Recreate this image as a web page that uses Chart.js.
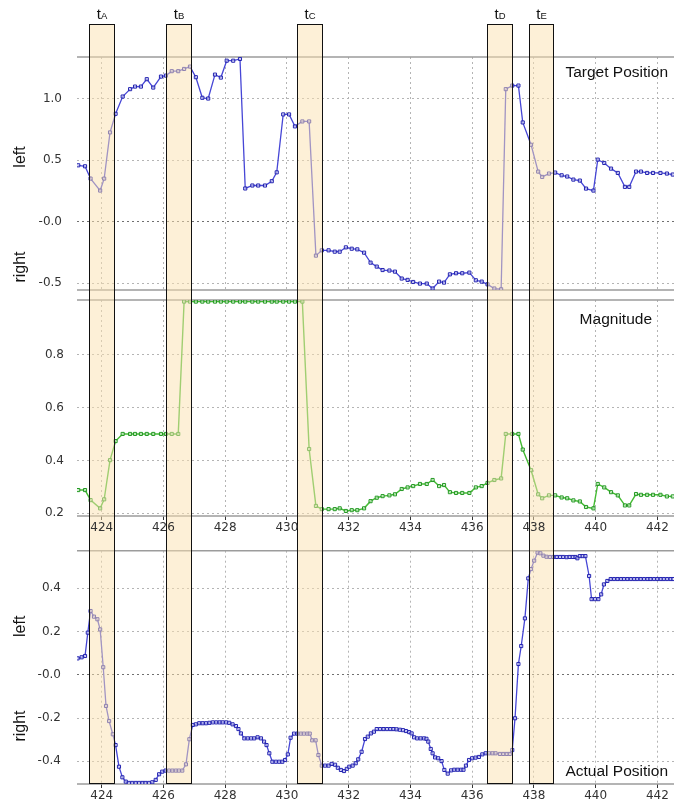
<!DOCTYPE html>
<html><head><meta charset="utf-8">
<script src="https://cdn.jsdelivr.net/npm/chart.js@4/dist/chart.umd.min.js"></script>
<style>
html,body{margin:0;padding:0;background:#fff;}
#wrap{position:relative;width:694px;height:809px;overflow:hidden;background:#fff;}
canvas{position:absolute;left:0;}
</style></head><body>
<div id="wrap">
<canvas id="c1" width="694" height="295" style="top:0px"></canvas>
<canvas id="c2" width="694" height="250" style="top:295px"></canvas>
<canvas id="c3" width="694" height="264" style="top:545px"></canvas>
</div>
<script>
// ---------- DATA ----------
const targetTime = [423.24,423.46,423.64,423.95,424.08,424.27,424.45,424.68,424.92,425.08,
425.27,425.46,425.67,425.92,426.08,426.27,426.48,426.67,426.86,427.05,
427.26,427.45,427.67,427.86,428.05,428.26,428.48,428.65,428.88,429.07,
429.29,429.51,429.67,429.88,430.07,430.26,430.50,430.72,430.94,431.13,
431.35,431.55,431.71,431.91,432.10,432.28,432.50,432.71,432.91,433.10,
433.32,433.50,433.72,433.91,434.09,434.31,434.53,434.72,434.93,435.09,
435.28,435.48,435.68,435.91,436.12,436.31,436.50,436.72,436.94,437.09,
437.30,437.50,437.64,437.91,438.14,438.27,438.49,438.69,438.90,439.08,
439.28,439.49,439.69,439.93,440.07,440.28,440.50,440.72,440.95,441.09,
441.31,441.47,441.67,441.86,442.10,442.31,442.50];

const targetPosition = [0.458,0.45,0.35,0.253,0.35,0.725,0.876,1.016,1.076,1.097,
1.097,1.157,1.089,1.178,1.186,1.222,1.222,1.24,1.259,1.173,
1.006,1.0,1.194,1.17,1.307,1.307,1.321,0.27,0.294,0.294,
0.294,0.329,0.401,0.871,0.871,0.774,0.814,0.814,-0.275,-0.232,
-0.232,-0.243,-0.243,-0.208,-0.219,-0.224,-0.251,-0.332,-0.364,-0.392,
-0.396,-0.405,-0.461,-0.472,-0.489,-0.502,-0.502,-0.542,-0.486,-0.494,
-0.427,-0.418,-0.418,-0.413,-0.475,-0.486,-0.508,-0.542,-0.548,1.076,
1.105,1.105,0.806,0.625,0.407,0.364,0.391,0.399,0.377,0.367,
0.342,0.334,0.269,0.253,0.504,0.477,0.431,0.396,0.283,0.283,
0.407,0.407,0.396,0.396,0.396,0.391,0.383];

const magnitude = [0.288,0.288,0.250,0.219,0.253,0.401,0.473,0.5,0.5,0.5,
0.5,0.5,0.5,0.5,0.5,0.5,0.5,1.0,1.0,1.0,
1.0,1.0,1.0,1.0,1.0,1.0,1.0,1.0,1.0,1.0,
1.0,1.0,1.0,1.0,1.0,1.0,1.0,0.443,0.228,0.216,
0.216,0.216,0.219,0.209,0.212,0.212,0.219,0.246,0.259,0.265,
0.268,0.272,0.292,0.298,0.303,0.311,0.311,0.326,0.303,0.307,
0.280,0.277,0.277,0.277,0.298,0.303,0.315,0.326,0.332,0.5,
0.5,0.5,0.441,0.363,0.272,0.257,0.268,0.268,0.260,0.257,
0.249,0.245,0.224,0.219,0.311,0.298,0.280,0.268,0.230,0.230,
0.273,0.27,0.27,0.27,0.27,0.264,0.264];

const actualTime = [423.22,423.35,423.46,423.55,423.64,423.75,423.86,423.95,424.05,424.14,
424.24,424.36,424.45,424.56,424.67,424.78,424.88,424.99,425.10,425.21,
425.32,425.42,425.53,425.64,425.75,425.86,425.96,426.07,426.18,426.29,
426.40,426.50,426.61,426.73,426.84,426.95,427.05,427.16,427.27,427.38,
427.49,427.60,427.71,427.82,427.92,428.03,428.13,428.24,428.35,428.43,
428.51,428.62,428.73,428.84,428.94,429.05,429.16,429.26,429.34,429.43,
429.53,429.64,429.75,429.85,429.94,430.03,430.12,430.23,430.34,430.45,
430.55,430.66,430.74,430.82,430.93,431.02,431.13,431.24,431.35,431.45,
431.56,431.65,431.75,431.85,431.94,432.02,432.13,432.23,432.31,432.42,
432.53,432.62,432.72,432.82,432.91,433.02,433.13,433.24,433.35,433.45,
433.55,433.66,433.76,433.86,433.96,434.04,434.12,434.22,434.33,434.44,
434.52,434.58,434.66,434.72,434.80,434.90,435.01,435.10,435.21,435.32,
435.42,435.53,435.64,435.72,435.80,435.90,436.00,436.11,436.22,436.33,
436.44,436.55,436.66,436.76,436.90,437.01,437.12,437.22,437.30,437.39,
437.50,437.59,437.71,437.82,437.91,438.01,438.12,438.21,438.31,438.41,
438.52,438.63,438.74,438.85,438.95,439.06,439.16,439.26,439.35,439.41,
439.49,439.58,439.67,439.79,439.87,439.98,440.09,440.18,440.27,440.38,
440.49,440.60,440.71,440.82,440.92,441.03,441.14,441.25,441.35,441.46,
441.57,441.68,441.78,441.89,442.00,442.11,442.21,442.32,442.43,442.52];

const actualPosition = [0.076,0.081,0.087,0.195,0.295,0.269,0.257,0.210,0.035,-0.144,
-0.214,-0.275,-0.325,-0.425,-0.474,-0.494,-0.500,-0.500,-0.500,-0.500,
-0.500,-0.500,-0.500,-0.497,-0.486,-0.460,-0.448,-0.443,-0.443,-0.443,
-0.443,-0.443,-0.443,-0.414,-0.298,-0.232,-0.229,-0.224,-0.224,-0.224,
-0.222,-0.220,-0.220,-0.220,-0.220,-0.220,-0.222,-0.229,-0.237,-0.251,
-0.271,-0.294,-0.294,-0.294,-0.294,-0.289,-0.294,-0.309,-0.325,-0.363,
-0.402,-0.402,-0.402,-0.402,-0.394,-0.368,-0.291,-0.272,-0.272,-0.272,
-0.272,-0.272,-0.272,-0.303,-0.303,-0.371,-0.420,-0.420,-0.420,-0.412,
-0.416,-0.430,-0.440,-0.445,-0.435,-0.425,-0.420,-0.409,-0.391,-0.356,
-0.297,-0.286,-0.271,-0.263,-0.251,-0.251,-0.251,-0.251,-0.251,-0.251,
-0.252,-0.254,-0.256,-0.260,-0.265,-0.271,-0.289,-0.294,-0.294,-0.294,
-0.296,-0.309,-0.343,-0.363,-0.382,-0.386,-0.399,-0.440,-0.457,-0.442,
-0.439,-0.439,-0.439,-0.439,-0.420,-0.394,-0.386,-0.383,-0.380,-0.368,
-0.363,-0.363,-0.363,-0.363,-0.366,-0.366,-0.366,-0.366,-0.348,-0.201,
0.050,0.133,0.261,0.446,0.489,0.528,0.565,0.562,0.551,0.546,
0.545,0.545,0.545,0.545,0.545,0.544,0.545,0.545,0.545,0.539,
0.549,0.549,0.549,0.457,0.350,0.350,0.350,0.372,0.418,0.434,
0.443,0.443,0.443,0.443,0.443,0.443,0.443,0.443,0.443,0.443,
0.443,0.443,0.443,0.443,0.443,0.443,0.443,0.443,0.443,0.443];

const xTicks = [424,426,428,430,432,434,436,438,440,442];
const topTicks = [1.0,0.5,0,-0.5];
const topTickLabels = ['1.0','0.5','-0.0','-0.5'];
const midTicks = [0.8,0.6,0.4,0.2];
const midTickLabels = ['0.8','0.6','0.4','0.2'];
const botTicks = [0.4,0.2,0,-0.2,-0.4];
const botTickLabels = ['0.4','0.2','-0.0','-0.2','-0.4'];

const bandNames = ['A','B','C','D','E'];
const bandStart = [423.60,426.09,430.32,436.49,437.83];
const bandEnd   = [424.41,426.90,431.13,437.30,438.63];

// ---------- RENDERING ----------
Chart.defaults.font.family = "'DejaVu Sans', sans-serif";
Chart.defaults.font.size = 12;
Chart.defaults.color = '#333';

const LABEL_FONT = "'Liberation Sans', Arial, sans-serif";

const panelPlugin = {
  id: 'panel',
  beforeDatasetsDraw(chart, args, o) {
    const {ctx, chartArea} = chart;
    ctx.save();
    ctx.strokeStyle = '#9c9c9c';
    ctx.lineWidth = 1.5;
    ctx.beginPath();
    ctx.moveTo(chartArea.left, chartArea.top); ctx.lineTo(chartArea.right, chartArea.top);
    ctx.moveTo(chartArea.left, chartArea.bottom); ctx.lineTo(chartArea.right, chartArea.bottom);
    ctx.stroke();
    ctx.restore();
  },
  afterDatasetsDraw(chart, args, o) {
    const {ctx, chartArea, scales} = chart;
    const x = scales.x;
    const top = o.bandTop;
    const bottom = o.bandToArea ? chartArea.bottom : chart.height;
    ctx.save();
    for (let i = 0; i < bandStart.length; i++) {
      const x0 = Math.round(x.getPixelForValue(bandStart[i])) + 0.5;
      const x1 = Math.round(x.getPixelForValue(bandEnd[i])) + 0.5;
      ctx.fillStyle = 'rgba(251,225,175,0.5)';
      ctx.fillRect(x0, top, x1 - x0, bottom - top);
      ctx.strokeStyle = '#111';
      ctx.lineWidth = 1;
      ctx.beginPath();
      ctx.moveTo(x0, top); ctx.lineTo(x0, bottom);
      ctx.moveTo(x1, top); ctx.lineTo(x1, bottom);
      if (o.bandTopEdge) { ctx.moveTo(x0, top + 0.5); ctx.lineTo(x1, top + 0.5); }
      if (o.bandToArea) { ctx.moveTo(x0, Math.round(bottom) - 0.5); ctx.lineTo(x1, Math.round(bottom) - 0.5); }
      ctx.stroke();
      if (o.bandLabels) {
        const cx = (x0 + x1) / 2;
        ctx.fillStyle = '#111';
        ctx.textBaseline = 'alphabetic';
        ctx.textAlign = 'left';
        ctx.font = '15px ' + LABEL_FONT;
        const wt = ctx.measureText('t').width;
        ctx.font = '9.5px ' + LABEL_FONT;
        const ws = ctx.measureText(bandNames[i]).width;
        const sx = cx - (wt + ws) / 2;
        ctx.font = '15px ' + LABEL_FONT;
        ctx.fillText('t', sx, 18.5);
        ctx.font = '9.5px ' + LABEL_FONT;
        ctx.fillText(bandNames[i], sx + wt, 18.5);
      }
    }
    ctx.restore();
  },
  afterDraw(chart, args, o) {
    const {ctx} = chart;
    ctx.save();
    ctx.fillStyle = '#111';
    if (o.title) {
      ctx.font = '15.5px ' + LABEL_FONT;
      ctx.textAlign = 'right';
      ctx.textBaseline = 'alphabetic';
      ctx.fillText(o.title.text, o.title.x, o.title.y);
    }
    if (o.side) {
      ctx.font = '16px ' + LABEL_FONT;
      ctx.textAlign = 'center';
      ctx.textBaseline = 'middle';
      for (const s of o.side) {
        ctx.save();
        ctx.translate(s.x, s.y);
        ctx.rotate(-Math.PI / 2);
        ctx.fillText(s.text, 0, 0);
        ctx.restore();
      }
    }
    ctx.restore();
  }
};

function gridColor(c) { return (c.tick && c.tick.value === 0) ? '#707070' : '#b4b4b4'; }

function makeChart(id, datasets, y, xOpts, padTop, xHeight, panelOpts) {
  return new Chart(document.getElementById(id), {
    type: 'line',
    data: { datasets },
    options: {
      responsive: false, animation: false, devicePixelRatio: 1,
      layout: { padding: { top: padTop, right: 20, bottom: 0, left: 0 } },
      plugins: { legend: { display: false }, tooltip: { enabled: false }, panel: panelOpts },
      scales: {
        x: {
          type: 'linear', min: 423.2, max: 442.54,
          afterBuildTicks: s => { s.ticks = xTicks.map(v => ({ value: v })); },
          afterFit: s => { s.height = xHeight; s.paddingLeft = 0; s.paddingRight = 0; },
          grid: { color: '#b4b4b4', lineWidth: 1, drawTicks: xOpts.labels, tickLength: 4, tickColor: '#333', tickBorderDash: [] },
          border: { display: false, dash: [2, 3] },
          ticks: { display: xOpts.labels, z: 1, padding: 1, autoSkip: false, maxRotation: 0, color: '#333',
                   callback: v => String(v) }
        },
        y: {
          type: 'linear', min: y.min, max: y.max,
          afterBuildTicks: s => { s.ticks = y.ticks.map(v => ({ value: v })); },
          afterFit: s => { s.width = 77; s.paddingTop = 0; s.paddingBottom = 0; },
          grid: { color: gridColor, lineWidth: 1, drawTicks: false },
          border: { display: false, dash: [2, 3] },
          ticks: { padding: y.pad, color: '#333',
                   callback: v => { const i = y.ticks.indexOf(v); return i >= 0 ? y.labels[i] : ''; } }
        }
      }
    },
    plugins: [panelPlugin]
  });
}

function series(times, values, line, mark, width) {
  return {
    data: times.map((t, i) => ({ x: t, y: values[i] })),
    borderColor: line, borderWidth: width, tension: 0,
    pointStyle: 'rect', pointRadius: 2.2, pointBorderWidth: 1,
    pointBorderColor: mark, pointBackgroundColor: 'rgba(255,255,255,0.5)'
  };
}

makeChart('c1',
  [series(targetTime, targetPosition, '#4646d6', '#2222b0', 1.3)],
  { min: -0.554, max: 1.337, ticks: topTicks, labels: topTickLabels, pad: 15 },
  { labels: false }, 57, 4,
  { bandTop: 24, bandTopEdge: true, bandToArea: false, bandLabels: true,
    title: { text: 'Target Position', x: 668, y: 77 },
    side: [{ text: 'left', x: 21, y: 157 }, { text: 'right', x: 21, y: 267 }] });

makeChart('c2',
  [series(targetTime, magnitude, '#44bb33', '#229922', 1.4)],
  { min: 0.19, max: 1.006, ticks: midTicks, labels: midTickLabels, pad: 13 },
  { labels: true }, 5, 29,
  { bandTop: 0, bandTopEdge: false, bandToArea: false, bandLabels: false,
    title: { text: 'Magnitude', x: 652, y: 29 } });

makeChart('c3',
  [series(actualTime, actualPosition, '#4646d6', '#2222b0', 1.3)],
  { min: -0.505, max: 0.574, ticks: botTicks, labels: botTickLabels, pad: 16 },
  { labels: true }, 5.7, 25,
  { bandTop: 0, bandTopEdge: false, bandToArea: true, bandLabels: false,
    title: { text: 'Actual Position', x: 668, y: 230.5 },
    side: [{ text: 'left', x: 21, y: 81.3 }, { text: 'right', x: 21, y: 181 }] });
</script>
</body></html>
